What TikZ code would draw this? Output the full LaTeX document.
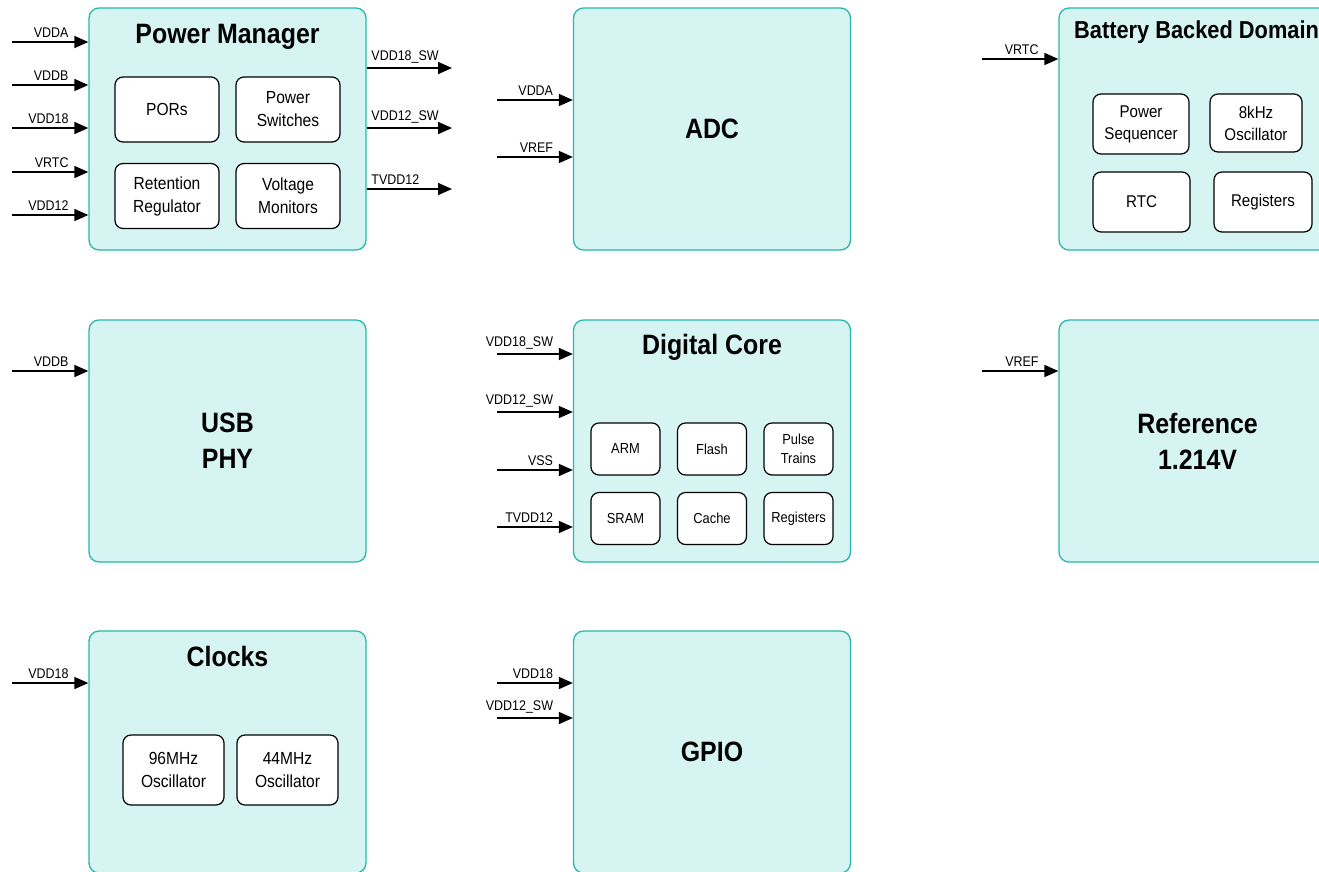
\documentclass[tikz,border=0pt]{standalone}
\usepackage{fontspec}
\setmainfont{Liberation Sans}
\newfontfamily\narrowfont[FakeStretch=0.89]{Liberation Sans}
\usetikzlibrary{arrows.meta}
\definecolor{blockfill}{RGB}{214,245,242}
\definecolor{blockline}{RGB}{38,184,172}
\tikzset{
  block/.style={draw=blockline,fill=blockfill,line width=1.3pt,rounded corners=10pt,
    minimum width=277pt,minimum height=242pt,inner sep=0pt,align=center,
    font=\narrowfont\bfseries\fontsize{28}{36}\selectfont},
  blocktitle/.style={anchor=base,inner sep=0pt,font=\narrowfont\bfseries\fontsize{28}{34}\selectfont},
  unit/.style={draw=black,fill=white,line width=1.2pt,rounded corners=8pt,inner sep=0pt,
    align=center,font=\narrowfont\fontsize{17.5}{23}\selectfont},
  smallunit/.style={unit,minimum width=69pt,minimum height=52pt,
    font=\narrowfont\fontsize{14.5}{19}\selectfont},
  sig/.style={line width=1.6pt,-{Triangle[length=14pt,width=12pt]}},
  lblin/.style={anchor=south east,inner sep=0pt,xshift=-19pt,yshift=4pt,
    font=\narrowfont\fontsize{14}{16}\selectfont},
  lblout/.style={pos=0,anchor=south west,inner sep=0pt,xshift=4pt,yshift=4pt,
    font=\narrowfont\fontsize{14}{16}\selectfont}
}
\begin{document}
\begin{tikzpicture}[x=1pt,y=-1pt]
        \clip (0,0) rectangle (1319,871);
        %% blocks
        \node[block] (pm) at (227.5,129) {};
        \node[block] (adc) at (712,129) {ADC};
        \node[block] (bbd) at (1197.5,129) {};
        \node[block] (usb) at (227.5,441) {USB\\PHY};
        \node[block] (core) at (712,441) {};
        \node[block] (ref) at (1197.5,441) {Reference\\1.214V};
        \node[block] (clk) at (227.5,752) {};
        \node[block] (gpio) at (712,752) {GPIO};
        %% titles
        \node[blocktitle] (pmtitle) at (227.5,43) {Power Manager};
        \node[blocktitle,anchor=base west,font=\narrowfont\bfseries\fontsize{24.5}{30}\selectfont]
            (bbdtitle) at (1074,38) {Battery Backed Domain};
        \node[blocktitle] (coretitle) at (712,354) {Digital Core};
        \node[blocktitle] (clktitle) at (227.5,666) {Clocks};
        %% power manager parts
        \node[unit,minimum width=104pt,minimum height=65pt] (pors) at (167,109.5) {PORs};
        \node[unit,minimum width=104pt,minimum height=65pt] (switches) at (288,109.5) {Power\\Switches};
        \node[unit,minimum width=104pt,minimum height=65pt] (retention) at (167,196) {Retention\\Regulator};
        \node[unit,minimum width=104pt,minimum height=65pt] (monitors) at (288,196) {Voltage\\Monitors};
        %% battery backed parts
        \node[unit,minimum width=96pt,minimum height=60pt,font=\narrowfont\fontsize{17}{22}\selectfont]
            (sequencer) at (1141,124) {Power\\Sequencer};
        \node[unit,minimum width=92pt,minimum height=58pt,font=\narrowfont\fontsize{17}{22}\selectfont]
            (osc8) at (1256,123) {8kHz\\Oscillator};
        \node[unit,minimum width=97pt,minimum height=60pt,font=\narrowfont\fontsize{17}{22}\selectfont]
            (rtc) at (1141.5,202) {RTC};
        \node[unit,minimum width=98pt,minimum height=60pt,font=\narrowfont\fontsize{17}{22}\selectfont]
            (bbdregs) at (1263,202) {Registers};
        %% digital core parts
        \node[smallunit] (arm) at (625.5,449) {ARM};
        \node[smallunit] (flash) at (712,449) {Flash};
        \node[smallunit] (pulse) at (798.5,449) {Pulse\\Trains};
        \node[smallunit] (sram) at (625.5,518.5) {SRAM};
        \node[smallunit] (cache) at (712,518.5) {Cache};
        \node[smallunit] (coreregs) at (798.5,518.5) {Registers};
        %% clock parts
        \node[unit,minimum width=101pt,minimum height=70pt] (osc96) at (173.5,770) {96MHz\\Oscillator};
        \node[unit,minimum width=101pt,minimum height=70pt] (osc44) at (287.5,770) {44MHz\\Oscillator};
        %% power manager supplies
        \coordinate (pmvdda) at (12,42);
        \coordinate (pmvddb) at (12,85);
        \coordinate (pmvdd18) at (12,128);
        \coordinate (pmvrtc) at (12,172);
        \coordinate (pmvdd12) at (12,215);
        \draw[sig] (pmvdda) -- (pmvdda -| pm.west) node[lblin] {VDDA};
        \draw[sig] (pmvddb) -- (pmvddb -| pm.west) node[lblin] {VDDB};
        \draw[sig] (pmvdd18) -- (pmvdd18 -| pm.west) node[lblin] {VDD18};
        \draw[sig] (pmvrtc) -- (pmvrtc -| pm.west) node[lblin] {VRTC};
        \draw[sig] (pmvdd12) -- (pmvdd12 -| pm.west) node[lblin] {VDD12};
        %% power manager outputs
        \coordinate (pmsw18) at (452,68);
        \coordinate (pmsw12) at (452,128);
        \coordinate (pmtvdd) at (452,189);
        \draw[sig] (pmsw18 -| pm.east) -- (pmsw18) node[lblout] {VDD18\_SW};
        \draw[sig] (pmsw12 -| pm.east) -- (pmsw12) node[lblout] {VDD12\_SW};
        \draw[sig] (pmtvdd -| pm.east) -- (pmtvdd) node[lblout] {TVDD12};
        %% adc supplies
        \coordinate (adcvdda) at (497,100);
        \coordinate (adcvref) at (497,157);
        \draw[sig] (adcvdda) -- (adcvdda -| adc.west) node[lblin] {VDDA};
        \draw[sig] (adcvref) -- (adcvref -| adc.west) node[lblin] {VREF};
        %% battery backed supply
        \coordinate (bbdvrtc) at (982,59);
        \draw[sig] (bbdvrtc) -- (bbdvrtc -| bbd.west) node[lblin] {VRTC};
        %% usb supply
        \coordinate (usbvddb) at (12,371);
        \draw[sig] (usbvddb) -- (usbvddb -| usb.west) node[lblin] {VDDB};
        %% digital core supplies
        \coordinate (coresw18) at (497,354);
        \coordinate (coresw12) at (497,412);
        \coordinate (corevss) at (497,470);
        \coordinate (coretvdd) at (497,527);
        \draw[sig] (coresw18) -- (coresw18 -| core.west) node[lblin] {VDD18\_SW};
        \draw[sig] (coresw12) -- (coresw12 -| core.west) node[lblin] {VDD12\_SW};
        \draw[sig] (corevss) -- (corevss -| core.west) node[lblin] {VSS};
        \draw[sig] (coretvdd) -- (coretvdd -| core.west) node[lblin] {TVDD12};
        %% reference supply
        \coordinate (refvref) at (982,371);
        \draw[sig] (refvref) -- (refvref -| ref.west) node[lblin] {VREF};
        %% clock supply
        \coordinate (clkvdd18) at (12,683);
        \draw[sig] (clkvdd18) -- (clkvdd18 -| clk.west) node[lblin] {VDD18};
        %% gpio supplies
        \coordinate (gpiovdd18) at (497,683);
        \coordinate (gpiosw12) at (497,718);
        \draw[sig] (gpiovdd18) -- (gpiovdd18 -| gpio.west) node[lblin] {VDD18};
        \draw[sig] (gpiosw12) -- (gpiosw12 -| gpio.west) node[lblin] {VDD12\_SW};
    \end{tikzpicture}
\end{document}
